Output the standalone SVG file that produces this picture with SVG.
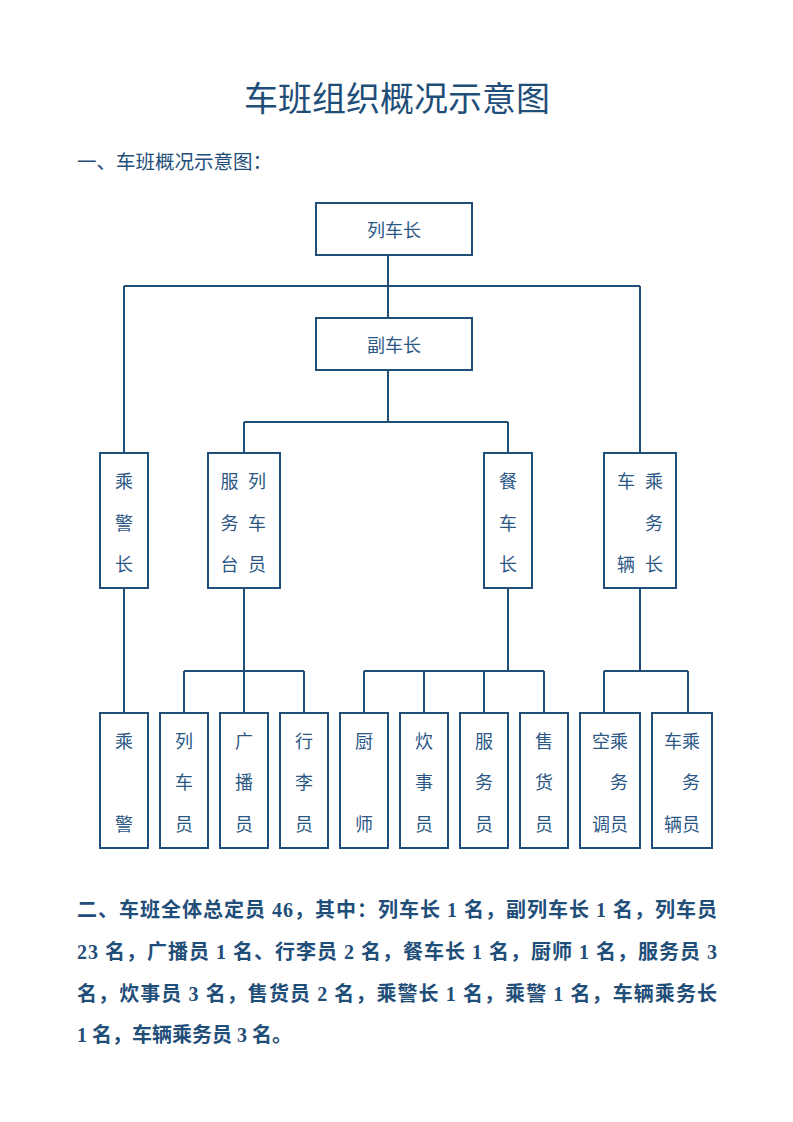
<svg xmlns="http://www.w3.org/2000/svg" width="793" height="1122" viewBox="0 0 793 1122">
<style>
.box{fill:#fff;stroke:#1f4e79;stroke-width:2}
.ln{fill:none;stroke:#1f4e79;stroke-width:2}
.t{font-family:"Noto Sans CJK SC","Noto Sans CJK JP",sans-serif;font-size:18px;fill:#2b5785;text-anchor:middle;dominant-baseline:central}
.title{font-family:"Noto Sans CJK SC",sans-serif;font-size:34px;fill:#1f4e79;text-anchor:middle}
.sub{font-family:"Noto Sans CJK SC",sans-serif;font-size:19.5px;fill:#1f4e79}
.p{font-family:"Liberation Serif","Noto Sans CJK SC",serif;font-size:20px;font-weight:bold;fill:#1f4e79}
</style>
<rect width="793" height="1122" fill="#fff"/>
<text class="title" x="397" y="111">车班组织概况示意图</text>
<text class="sub" x="77" y="169">一、车班概况示意图：</text>
<g id="connectors">
<path class="ln" d="M388 255V318M124 286H640M124 286V453M640 286V453"/>
<path class="ln" d="M388 370V422M244 422H508M244 422V453M508 422V453"/>
<path class="ln" d="M124 588V713"/>
<path class="ln" d="M244 588V713M184 671H304M184 671V713M304 671V713"/>
<path class="ln" d="M508 588V671M364 671H544M364 671V713M424 671V713M484 671V713M544 671V713"/>
<path class="ln" d="M640 588V671M604 671H688M604 671V713M688 671V713"/>
</g>
<g id="n_liechezhang"><rect class="box" x="316" y="203" width="156" height="52"/><text class="t" x="394" y="229">列车长</text></g>
<g id="n_fuchezhang"><rect class="box" x="316" y="318" width="156" height="52"/><text class="t" x="394" y="344">副车长</text></g>
<g id="n_chengjingzhang"><rect class="box" x="100" y="453" width="48" height="135"/>
<text class="t" x="124" y="480">乘</text><text class="t" x="124" y="522">警</text><text class="t" x="124" y="563">长</text></g>
<g id="n_fuwutai"><rect class="box" x="208" y="453" width="72" height="135"/>
<text class="t" x="229.5" y="480">服</text><text class="t" x="257" y="480">列</text>
<text class="t" x="229.5" y="522">务</text><text class="t" x="257" y="522">车</text>
<text class="t" x="229.5" y="563">台</text><text class="t" x="257" y="563">员</text></g>
<g id="n_canchezhang"><rect class="box" x="484" y="453" width="48" height="135"/>
<text class="t" x="508" y="480">餐</text><text class="t" x="508" y="522">车</text><text class="t" x="508" y="563">长</text></g>
<g id="n_cheliangchengwuzhang"><rect class="box" x="604" y="453" width="72" height="135"/>
<text class="t" x="626" y="480">车</text><text class="t" x="654" y="480">乘</text>
<text class="t" x="654" y="522">务</text>
<text class="t" x="626" y="563">辆</text><text class="t" x="654" y="563">长</text></g>
<g id="n_chengjing"><rect class="box" x="100" y="713" width="48" height="135"/>
<text class="t" x="124" y="740">乘</text><text class="t" x="124" y="823">警</text></g>
<g id="n_licheyuan"><rect class="box" x="160" y="713" width="48" height="135"/>
<text class="t" x="184" y="740">列</text><text class="t" x="184" y="781">车</text><text class="t" x="184" y="823">员</text></g>
<g id="n_guangboyuan"><rect class="box" x="220" y="713" width="48" height="135"/>
<text class="t" x="244" y="740">广</text><text class="t" x="244" y="781">播</text><text class="t" x="244" y="823">员</text></g>
<g id="n_xingliyuan"><rect class="box" x="280" y="713" width="48" height="135"/>
<text class="t" x="304" y="740">行</text><text class="t" x="304" y="781">李</text><text class="t" x="304" y="823">员</text></g>
<g id="n_chushi"><rect class="box" x="340" y="713" width="48" height="135"/>
<text class="t" x="364" y="740">厨</text><text class="t" x="364" y="823">师</text></g>
<g id="n_chuishiyuan"><rect class="box" x="400" y="713" width="48" height="135"/>
<text class="t" x="424" y="740">炊</text><text class="t" x="424" y="781">事</text><text class="t" x="424" y="823">员</text></g>
<g id="n_fuwuyuan"><rect class="box" x="460" y="713" width="48" height="135"/>
<text class="t" x="484" y="740">服</text><text class="t" x="484" y="781">务</text><text class="t" x="484" y="823">员</text></g>
<g id="n_shouhuoyuan"><rect class="box" x="520" y="713" width="48" height="135"/>
<text class="t" x="544" y="740">售</text><text class="t" x="544" y="781">货</text><text class="t" x="544" y="823">员</text></g>
<g id="n_kongcheng"><rect class="box" x="580" y="713" width="60" height="135"/>
<text class="t" x="601" y="740">空</text><text class="t" x="619" y="740">乘</text>
<text class="t" x="619" y="781">务</text>
<text class="t" x="601" y="823">调</text><text class="t" x="619" y="823">员</text></g>
<g id="n_cheliangchengwuyuan"><rect class="box" x="652" y="713" width="60" height="135"/>
<text class="t" x="673" y="740">车</text><text class="t" x="691" y="740">乘</text>
<text class="t" x="691" y="781">务</text>
<text class="t" x="673" y="823">辆</text><text class="t" x="691" y="823">员</text></g>
<g id="paragraph">
<text class="p" x="77" y="917" textLength="640" lengthAdjust="spacing">二、车班全体总定员 46，其中：列车长 1 名，副列车长 1 名，列车员</text>
<text class="p" x="77" y="959" textLength="640" lengthAdjust="spacing">23 名，广播员 1 名、行李员 2 名，餐车长 1 名，厨师 1 名，服务员 3</text>
<text class="p" x="77" y="1001" textLength="640" lengthAdjust="spacing">名，炊事员 3 名，售货员 2 名，乘警长 1 名，乘警 1 名，车辆乘务长</text>
<text class="p" x="77" y="1042">1 名，车辆乘务员 3 名。</text>
</g>
</svg>
